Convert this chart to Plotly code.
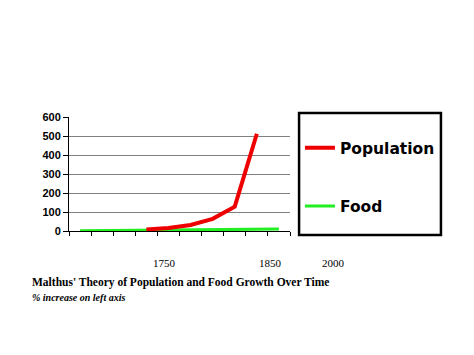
import plotly.graph_objects as go

periods = list(range(10))
population = [None, None, None, 8, 16, 32, 64, 128, 512, None]
food = [1, 2, 3, 4, 5, 6, 7, 8, 9, 10]
y_ticks = [0, 100, 200, 300, 400, 500, 600]
year_labels = ["1750", "1850", "2000"]
year_label_x = [0.433, 0.914, 1.195]  # paper positions of the year captions
title_text = "Malthus' Theory of Population and Food Growth Over Time"
subtitle_text = "% increase on left axis"

fig = go.Figure()
fig.add_trace(go.Scatter(x=periods, y=food, mode="lines", name="Food",
                         line=dict(color="#22ee22", width=3), legendgroup="b", legendrank=2))
fig.add_trace(go.Scatter(x=periods, y=population, mode="lines", name="Population",
                         line=dict(color="#ee0000", width=4), legendgroup="a", legendrank=1))

fig.update_layout(
    width=474, height=355,
    margin=dict(l=69, r=184, t=117, b=124),
    paper_bgcolor="white", plot_bgcolor="white",
    showlegend=True,
    legend=dict(x=1.045, xanchor="left", y=0.875, yanchor="top",
                traceorder="grouped", tracegroupgap=35,
                font=dict(family="DejaVu Sans", size=15.5, color="black", weight="bold"),
                itemwidth=30, bgcolor="rgba(0,0,0,0)"),
    xaxis=dict(range=[-0.5, 9.5], tickvals=[i - 0.5 for i in range(11)], showticklabels=False,
               ticks="outside", ticklen=4, tickcolor="black", showgrid=False,
               showline=True, linecolor="black", linewidth=1, zeroline=False, fixedrange=True),
    yaxis=dict(range=[0, 600], tickvals=y_ticks, ticks="outside", ticklen=5, tickcolor="black",
               showgrid=True, gridcolor="#808080", gridwidth=1,
               showline=True, linecolor="black", linewidth=1, zeroline=False,
               tickfont=dict(family="Liberation Sans", size=11, color="black", weight="bold"),
               fixedrange=True),
)

fig.add_shape(type="rect", xref="paper", yref="paper",
              x0=1.041, x1=1.683, y0=-0.035, y1=1.035,
              line=dict(color="black", width=2.5), fillcolor="rgba(0,0,0,0)")

for lab, xp in zip(year_labels, year_label_x):
    fig.add_annotation(text=lab, xref="paper", yref="paper", x=xp, y=-0.28,
                       showarrow=False, xanchor="center", yanchor="middle",
                       font=dict(family="Liberation Serif", size=11, color="black"))

fig.add_annotation(text="<b>" + title_text + "</b>", xref="paper", yref="paper",
                   x=-0.176, y=-0.455, showarrow=False, xanchor="left", yanchor="middle",
                   font=dict(family="Liberation Serif", size=11.5, color="black"))
fig.add_annotation(text="<b><i>" + subtitle_text + "</i></b>", xref="paper", yref="paper",
                   x=-0.176, y=-0.58, showarrow=False, xanchor="left", yanchor="middle",
                   font=dict(family="Liberation Serif", size=10, color="black"))

fig.write_html("out.html", config={"displayModeBar": False},
               post_script="document.body.style.margin='0';")
